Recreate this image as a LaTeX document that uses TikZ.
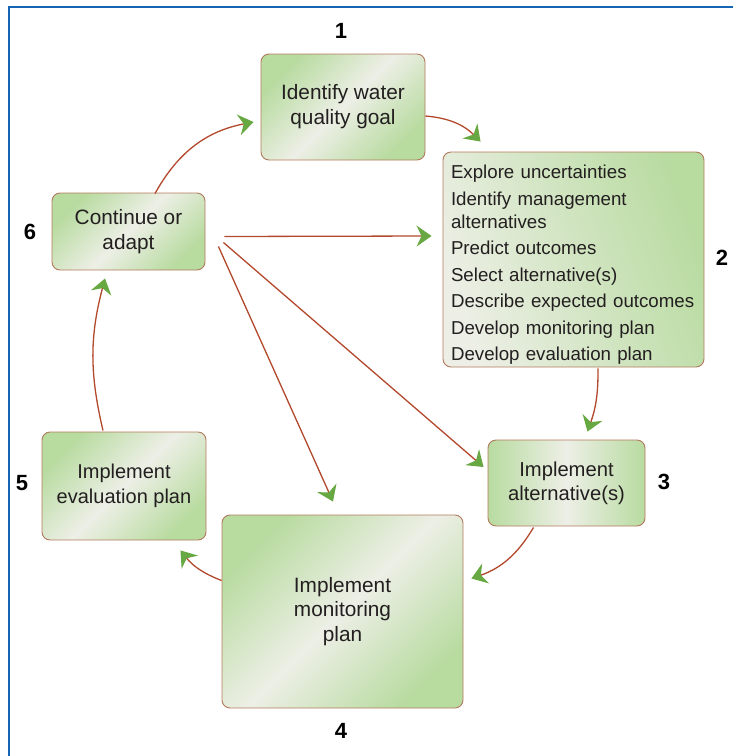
\documentclass[tikz,border=0pt]{standalone}
\usepackage{fontspec}
\setmainfont{Liberation Sans}
\usetikzlibrary{arrows.meta,calc}
\definecolor{gdark}{RGB}{184,219,160}
\definecolor{glight}{RGB}{237,239,230}
\definecolor{boxedge}{RGB}{178,122,92}
\definecolor{arrred}{RGB}{178,72,44}
\definecolor{arrgreen}{RGB}{104,168,66}
\definecolor{framecol}{RGB}{22,100,180}
\definecolor{txt}{RGB}{35,31,32}
\begin{document}
\begin{tikzpicture}[x=1pt,y=-1pt,
  box/.style={draw=boxedge, line width=0.9pt, rounded corners=8pt, inner sep=0pt,
    align=center, text=txt, font=\fontsize{20.8}{25}\selectfont},
  diag/.style={left color=gdark, right color=gdark, middle color=glight, shading angle=45},
  horiz/.style={left color=gdark, right color=gdark, middle color=glight},
  num/.style={font=\bfseries\fontsize{22}{26}\selectfont, text=black, inner sep=0pt},
  conn/.style={draw=arrred, line width=1.3pt,
    -{Stealth[length=15pt,width=21pt,inset=5pt,color=arrgreen]}}
]
\useasboundingbox (0,0) rectangle (733,756);
\draw[framecol, line width=2pt] (9,756) -- (9,6.5) -- (733,6.5);

\node[box, diag, minimum width=164pt, minimum height=106pt] (b1) at (343,107) {Identify water\\quality goal};
\node[box, left color=glight, right color=gdark, shading angle=110, minimum width=261pt, minimum height=215pt,
  align=left, text width=245pt, font=\fontsize{18.7}{23}\selectfont] (b2) at (573.5,259.5)
  {\rule{0pt}{24pt}Explore uncertainties\\[3.5pt]Identify management\\alternatives\\[3.5pt]Predict outcomes\\[3.5pt]Select alternative(s)\\[3.5pt]Describe expected outcomes\\[3.5pt]Develop monitoring plan\\[3.5pt]Develop evaluation plan};
\node[box, horiz, minimum width=157pt, minimum height=86pt, font=\fontsize{20.2}{24}\selectfont] (b3) at (566.5,483) {Implement\\alternative(s)};
\node[box, diag, minimum width=241pt, minimum height=193pt, font=\fontsize{20.8}{24.5}\selectfont] (b4) at (342.5,611.5) {Implement\\monitoring\\plan};
\node[box, diag, minimum width=164pt, minimum height=108pt, font=\fontsize{20}{25}\selectfont] (b5) at (124,486) {Implement\\evaluation plan};
\node[box, diag, minimum width=153pt, minimum height=77pt] (b6) at (128.5,231.5) {Continue or\\adapt};

\node[num] (n1) at (341,31) {1};
\node[num] (n2) at (722,258) {2};
\node[num] (n3) at (664,482) {3};
\node[num] (n4) at (341,731) {4};
\node[num] (n5) at (22,483) {5};
\node[num] (n6) at (30,232) {6};

\draw[conn] ($(b1.east)+(0,9)$) to[bend left=20] ($(b2.north west)+(38,-10)$);
\draw[conn] ($(b6.north)+(26.5,1)$) to[bend left=25] ($(b1.west)+(-7,15)$);
\draw[conn] ($(b6.east)+(19,5)$) -- ($(b2.west)+(-11,-23.5)$);
\draw[conn] ($(b6.east)+(13,15)$) -- ($(b4.north)+(-9.5,-13)$);
\draw[conn] ($(b6.east)+(18,11)$) -- ($(b3.west)+(-4,-16)$);
\draw[conn] ($(b2.south)+(24.5,1)$) to[bend left=10] ($(b3.north)+(21,-8)$);
\draw[conn] ($(b3.south)+(-33,1)$) to[bend left=20] ($(b4.east)+(8,-33)$);
\draw[conn] ($(b4.west)+(0,-31)$) to[bend left=15] ($(b5.south east)+(-26,10)$);
\draw[conn] ($(b5.north)+(-21,-1)$) to[bend left=14] ($(b6.south)+(-23.5,8)$);
\end{tikzpicture}
\end{document}
